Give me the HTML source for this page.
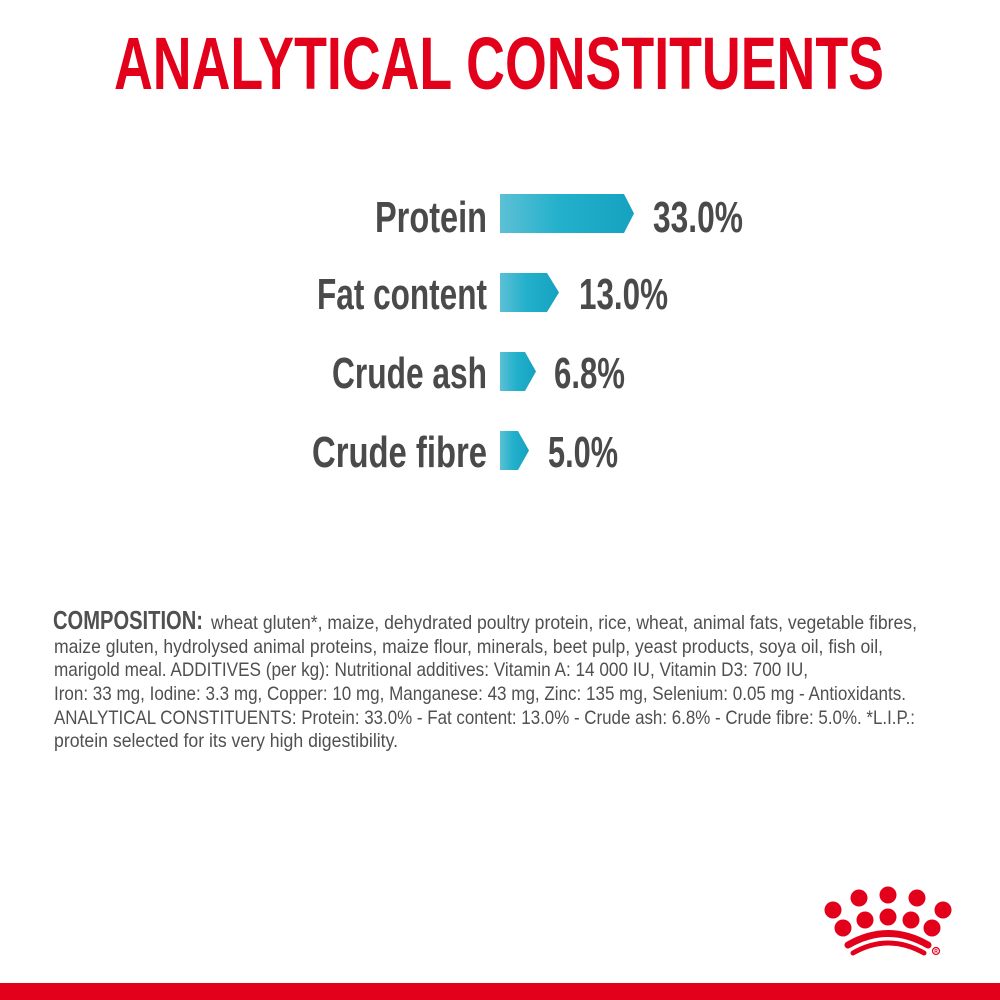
<!DOCTYPE html>
<html>
<head>
<meta charset="utf-8">
<style>
html,body{margin:0;padding:0;background:#fff;}
svg{display:block;}
</style>
</head>
<body>
<svg width="1000" height="1000" viewBox="0 0 1000 1000" xmlns="http://www.w3.org/2000/svg">
<defs>
<linearGradient id="g1" x1="0" y1="0" x2="1" y2="0">
<stop offset="0" stop-color="#5cc0d5"/>
<stop offset="0.45" stop-color="#22b0cb"/>
<stop offset="1" stop-color="#15a2c0"/>
</linearGradient>
</defs>
<rect width="1000" height="1000" fill="#fff"/>
<text x="114" y="89" font-family="Liberation Sans, sans-serif" font-weight="bold" font-size="74" fill="#e2001a" textLength="770" lengthAdjust="spacingAndGlyphs">ANALYTICAL CONSTITUENTS</text>

<g font-family="Liberation Sans, sans-serif" font-weight="bold" font-size="44" fill="#4a4a4a">
<text x="375" y="232" textLength="112" lengthAdjust="spacingAndGlyphs">Protein</text>
<text x="317" y="309" textLength="170" lengthAdjust="spacingAndGlyphs">Fat content</text>
<text x="332" y="388" textLength="155" lengthAdjust="spacingAndGlyphs">Crude ash</text>
<text x="312" y="467" textLength="175" lengthAdjust="spacingAndGlyphs">Crude fibre</text>
<text x="653" y="232" textLength="90" lengthAdjust="spacingAndGlyphs">33.0%</text>
<text x="579" y="309" textLength="89" lengthAdjust="spacingAndGlyphs">13.0%</text>
<text x="554" y="388" textLength="71" lengthAdjust="spacingAndGlyphs">6.8%</text>
<text x="548" y="467" textLength="70" lengthAdjust="spacingAndGlyphs">5.0%</text>
</g>

<polygon points="500,194 624,194 634,213.5 624,233 500,233" fill="url(#g1)"/>
<polygon points="500,273 547,273 559,292.5 547,312 500,312" fill="url(#g1)"/>
<polygon points="500,352 525,352 536,371.5 525,391 500,391" fill="url(#g1)"/>
<polygon points="500,431 518,431 529,450.5 518,470 500,470" fill="url(#g1)"/>

<g font-family="Liberation Sans, sans-serif" font-size="19.5" fill="#505050">
<text x="53" y="629" font-weight="bold" font-size="26" textLength="150" lengthAdjust="spacingAndGlyphs">COMPOSITION:</text>
<text x="211" y="629" textLength="706" lengthAdjust="spacingAndGlyphs">wheat gluten*, maize, dehydrated poultry protein, rice, wheat, animal fats, vegetable fibres,</text>
<text x="54" y="653" textLength="829" lengthAdjust="spacingAndGlyphs">maize gluten, hydrolysed animal proteins, maize flour, minerals, beet pulp, yeast products, soya oil, fish oil,</text>
<text x="54" y="676" textLength="754" lengthAdjust="spacingAndGlyphs">marigold meal. ADDITIVES (per kg): Nutritional additives: Vitamin A: 14 000 IU, Vitamin D3: 700 IU,</text>
<text x="54" y="700" textLength="852" lengthAdjust="spacingAndGlyphs">Iron: 33 mg, Iodine: 3.3 mg, Copper: 10 mg, Manganese: 43 mg, Zinc: 135 mg, Selenium: 0.05 mg - Antioxidants.</text>
<text x="54" y="724" textLength="861" lengthAdjust="spacingAndGlyphs">ANALYTICAL CONSTITUENTS: Protein: 33.0% - Fat content: 13.0% - Crude ash: 6.8% - Crude fibre: 5.0%. *L.I.P.:</text>
<text x="54" y="747" textLength="344" lengthAdjust="spacingAndGlyphs">protein selected for its very high digestibility.</text>
</g>

<g fill="#e2001a">
<circle cx="859" cy="898" r="8.5"/>
<circle cx="888" cy="895" r="8.5"/>
<circle cx="917" cy="898" r="8.5"/>
<circle cx="833" cy="910" r="8.5"/>
<circle cx="943" cy="910" r="8.5"/>
<circle cx="865" cy="920" r="8.5"/>
<circle cx="888" cy="917" r="8.5"/>
<circle cx="911" cy="920" r="8.5"/>
<circle cx="843" cy="928" r="8.5"/>
<circle cx="932" cy="928" r="8.5"/>
</g>
<path d="M848,945 Q888,922 928,945" fill="none" stroke="#e2001a" stroke-width="7" stroke-linecap="round"/>
<path d="M853,953 Q888,933 924,953" fill="none" stroke="#e2001a" stroke-width="5" stroke-linecap="round"/>
<circle cx="936" cy="951" r="3.5" fill="none" stroke="#e2001a" stroke-width="1.2"/>
<text x="936" y="953" font-family="Liberation Sans, sans-serif" font-size="5" font-weight="bold" fill="#e2001a" text-anchor="middle">R</text>

<rect x="0" y="983" width="1000" height="17" fill="#e2001a"/>
</svg>
</body>
</html>
